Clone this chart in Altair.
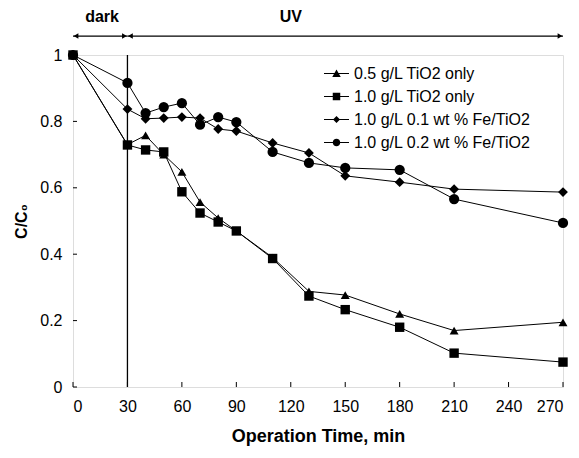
import altair as alt
import pandas as pd

time = [0, 30, 40, 50, 60, 70, 80, 90, 110, 130, 150, 180, 210, 270]
series = ["0.5 g/L TiO2 only", "1.0 g/L TiO2 only",
          "1.0 g/L 0.1 wt % Fe/TiO2", "1.0 g/L 0.2 wt % Fe/TiO2"]
tio2_05 = [1.0, 0.73, 0.758, 0.70, 0.648, 0.557, 0.509, 0.47, 0.39, 0.288, 0.277, 0.22, 0.17, 0.195]
tio2_10 = [1.0, 0.729, 0.714, 0.708, 0.588, 0.524, 0.497, 0.47, 0.387, 0.274, 0.233, 0.18, 0.102, 0.075]
fe_01 = [1.0, 0.837, 0.808, 0.81, 0.813, 0.81, 0.777, 0.771, 0.735, 0.705, 0.636, 0.617, 0.596, 0.587]
fe_02 = [1.0, 0.916, 0.825, 0.843, 0.855, 0.79, 0.813, 0.798, 0.708, 0.675, 0.66, 0.654, 0.566, 0.494]

x_ticks = [0, 30, 60, 90, 120, 150, 180, 210, 240, 270]
y_ticks = [0, 0.2, 0.4, 0.6, 0.8, 1.0]

phase_labels = ["dark", "UV"]
phase_label_x = [16, 120]
phase_start = [0, 30]
phase_end = [30, 270]

FONT = "Liberation Sans"

rows = []
for name, vals in zip(series, [tio2_05, tio2_10, fe_01, fe_02]):
    for t, v in zip(time, vals):
        rows.append({"time": t, "value": v, "series": name})
df = pd.DataFrame(rows)

xs = alt.Scale(domain=[0, 270], nice=False)
ys = alt.Scale(domain=[0, 1], nice=False)

x_enc = alt.X("time:Q", scale=xs, axis=alt.Axis(
    values=x_ticks, ticks=False, domain=False, grid=False,
    labelFont=FONT, labelFontSize=16, labelColor="black", labelPadding=11,
    title="Operation Time, min", titleFont=FONT, titleFontSize=18,
    titleFontWeight="bold", titleColor="black", titlePadding=13))
y_enc = alt.Y("value:Q", scale=ys, axis=alt.Axis(
    values=y_ticks, format="~g", ticks=False, domain=False, grid=False,
    labelFont=FONT, labelFontSize=16, labelColor="black", labelPadding=11,
    title="C/C₀", titleFont=FONT, titleFontSize=16,
    titleFontWeight="bold", titleColor="black", titlePadding=10))

base = alt.Chart(df)

lines = base.mark_line(color="black", strokeWidth=1).encode(
    x=x_enc, y=y_enc, detail="series:N")

points = base.mark_point(filled=True, color="black", opacity=1).encode(
    x="time:Q", y="value:Q",
    shape=alt.Shape("series:N", scale=alt.Scale(
        domain=series, range=["triangle-up", "square", "diamond", "circle"]), legend=None),
    size=alt.Size("series:N", scale=alt.Scale(domain=series, range=[80, 105, 75, 100]), legend=None))

STUB = "M-1,-0.04H1V0.04H-1Z"
legend_paths = [
    STUB + "M-0.34,0.28L0,-0.32L0.34,0.28Z",
    STUB + "M-0.3,-0.3H0.3V0.3H-0.3Z",
    STUB + "M0,-0.28L0.28,0L0,0.28L-0.28,0Z",
    STUB + "M0.3,0A0.3,0.3,0,1,1,-0.3,0A0.3,0.3,0,1,1,0.3,0Z",
]
legend_layer = base.transform_filter("false").mark_point(
    filled=True, color="black", opacity=1).encode(
    x="time:Q", y="value:Q",
    shape=alt.Shape("series:N", scale=alt.Scale(domain=series, range=legend_paths),
                    legend=alt.Legend(title=None, orient="none", legendX=250, legendY=5,
                                      labelFont=FONT, labelFontSize=16, labelColor="black",
                                      labelLimit=400,
                                      symbolSize=625, symbolFillColor="black",
                                      symbolOpacity=1, rowPadding=1, labelOffset=4)))

# vertical divider at t=30
divider = alt.Chart(pd.DataFrame({"t": [30]})).mark_rule(color="black", strokeWidth=1.3).encode(
    x="t:Q", y=alt.value(0), y2=alt.value(332))

# inward ticks
ytick_layer = alt.Chart(pd.DataFrame({"v": y_ticks})).mark_rule(color="black", strokeWidth=1).encode(
    y=alt.Y("v:Q", scale=ys), x=alt.value(0), x2=alt.value(4))
xtick_layer = alt.Chart(pd.DataFrame({"v": x_ticks})).mark_rule(color="black", strokeWidth=1).encode(
    x=alt.X("v:Q", scale=xs), y=alt.value(332), y2=alt.value(327))

# phase annotations above the plot
phase_df = pd.DataFrame({"label": phase_labels, "lx": phase_label_x,
                         "s": phase_start, "e": phase_end, "ay": [1.057, 1.057],
                         "ty": [1.113, 1.113]})
arrow_lines = alt.Chart(phase_df).mark_rule(color="black", strokeWidth=1.2, clip=False).encode(
    x=alt.X("s:Q", scale=xs), x2="e:Q", y=alt.Y("ay:Q", scale=ys))
left_heads = alt.Chart(phase_df).mark_point(shape="triangle-left", filled=True, color="black",
                                            size=30, opacity=1, clip=False, xOffset=3).encode(
    x=alt.X("s:Q", scale=xs), y=alt.Y("ay:Q", scale=ys))
right_heads = alt.Chart(phase_df).mark_point(shape="triangle-right", filled=True, color="black",
                                             size=30, opacity=1, clip=False, xOffset=-3).encode(
    x=alt.X("e:Q", scale=xs), y=alt.Y("ay:Q", scale=ys))
phase_text = alt.Chart(phase_df).mark_text(font=FONT, fontSize=16, fontWeight="bold",
                                           color="black", clip=False).encode(
    x=alt.X("lx:Q", scale=xs), y=alt.Y("ty:Q", scale=ys), text="label:N")

chart = alt.layer(
    lines, divider, ytick_layer, xtick_layer, points, legend_layer,
    arrow_lines, left_heads, right_heads, phase_text
).resolve_scale(shape="independent", size="independent").properties(
    width=490, height=332,
    autosize=alt.AutoSizeParams(type="none"),
    padding={"left": 65, "top": 47, "right": 8, "bottom": 70},
).configure_view(stroke="black", strokeWidth=1.5).configure(background="white")

chart.save("out.html", embed_options={"renderer": "svg", "actions": False})
